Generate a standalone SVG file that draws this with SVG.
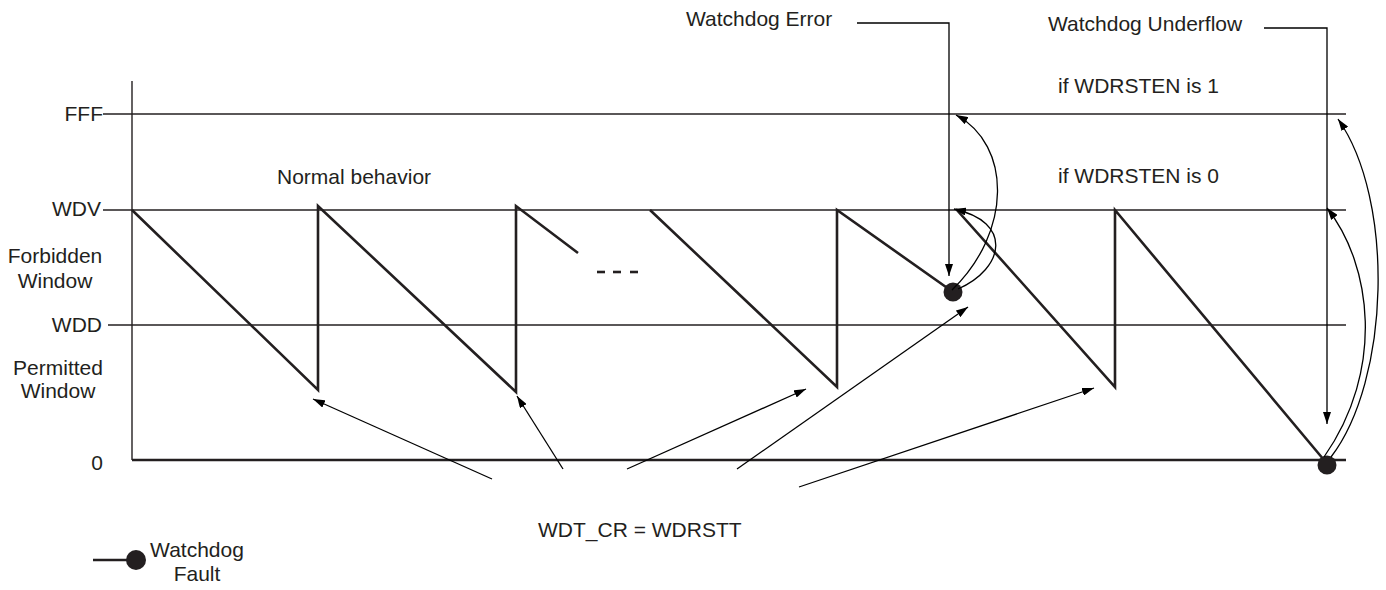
<svg xmlns="http://www.w3.org/2000/svg" width="1386" height="590" viewBox="0 0 1386 590">
<style>
text{font-family:"Liberation Sans",Arial,sans-serif;font-size:21px;fill:#231f20}
.thin{stroke:#231f20;stroke-width:1.4;fill:none}
.thick{stroke:#231f20;stroke-width:2.6;fill:none}
.arr{stroke:#000;stroke-width:1.3;fill:none;marker-end:url(#ah)}
.dot{fill:#231f20}
</style>
<defs>
<marker id="ah" markerUnits="userSpaceOnUse" viewBox="0 0 12 8" refX="12" refY="4" markerWidth="12" markerHeight="8" orient="auto">
<path d="M0,0 L12,4 L0,8 Z" fill="#000"/>
</marker>
</defs>
<rect width="1386" height="590" fill="#fff"/>
<g id="axes">
<line class="thin" x1="132" y1="81" x2="132" y2="460"/>
<line class="thin" x1="103" y1="114" x2="1346" y2="114"/>
<line class="thin" x1="103" y1="210" x2="1346" y2="210"/>
<line class="thin" x1="108" y1="325" x2="1346" y2="325"/>
<line class="thick" x1="132" y1="460" x2="1346" y2="460"/>
</g>
<g id="axis-labels">
<text x="103" y="121" text-anchor="end">FFF</text>
<text x="101" y="216" text-anchor="end">WDV</text>
<text x="55" y="263" text-anchor="middle">Forbidden</text>
<text x="55" y="288" text-anchor="middle">Window</text>
<text x="102" y="332" text-anchor="end">WDD</text>
<text x="58" y="375" text-anchor="middle">Permitted</text>
<text x="58" y="398" text-anchor="middle">Window</text>
<text x="103" y="470" text-anchor="end">0</text>
</g>
<g id="counter">
<polyline class="thick" points="132,210 318,390 318,206 516,392 516,206 578,253"/>
<line class="thick" x1="597" y1="272" x2="605" y2="272"/>
<line class="thick" x1="613" y1="272" x2="621" y2="272"/>
<line class="thick" x1="630" y1="272" x2="638" y2="272"/>
<polyline class="thick" points="650,210 837,387 837,210 953,292"/>
<polyline class="thick" points="956,209 1115,387 1115,210 1324,460"/>
</g>
<g id="error-dot"><circle class="dot" cx="953" cy="292" r="9.5"/></g>
<g id="underflow-dot"><circle class="dot" cx="1327" cy="465" r="9.5"/></g>
<g id="labels">
<text x="277" y="184">Normal behavior</text>
<text x="686" y="26">Watchdog Error</text>
<text x="1048" y="31">Watchdog Underflow</text>
<text x="1058" y="93">if WDRSTEN is 1</text>
<text x="1058" y="183">if WDRSTEN is 0</text>
<text x="538" y="537">WDT_CR = WDRSTT</text>
</g>
<g id="connectors">
<polyline class="arr" points="857,23 949,23 949,276"/>
<polyline class="arr" points="1264,28 1327,28 1327,424"/>
<path class="arr" d="M952,290 C1012,232 1012,145 956,115"/>
<path class="arr" d="M958,289 C1005,268 1013,222 954,209"/>
<path class="arr" d="M1331,457 C1390,380 1395,200 1338,119"/>
<path class="arr" d="M1324,457 C1385,370 1372,265 1327,208"/>
<line class="arr" x1="492" y1="479" x2="313" y2="399"/>
<line class="arr" x1="563" y1="469" x2="517" y2="396"/>
<line class="arr" x1="627" y1="469" x2="806" y2="389"/>
<line class="arr" x1="737" y1="469" x2="968" y2="307"/>
<line class="arr" x1="799" y1="487" x2="1094" y2="388"/>
</g>
<g id="legend">
<line class="thick" x1="93" y1="560" x2="130" y2="560"/>
<circle class="dot" cx="136" cy="560" r="10"/>
<text x="197" y="557" text-anchor="middle">Watchdog</text>
<text x="197" y="581" text-anchor="middle">Fault</text>
</g>
</svg>
